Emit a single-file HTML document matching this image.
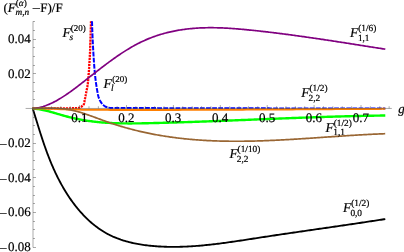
<!DOCTYPE html>
<html><head><meta charset="utf-8"><style>
html,body{margin:0;padding:0;background:#fff;}
svg{display:block;will-change:transform}
text{font-family:"Liberation Serif",serif;fill:#000;stroke:#000;stroke-width:0.2px;text-rendering:geometricPrecision}
.t{font-size:13px}
.l{font-size:13.5px}
.s{font-size:9.3px}
.i{font-style:italic}

.c path{fill:none;stroke-linecap:butt;stroke-linejoin:round}
.a path{fill:none;stroke:#555;stroke-width:0.5}
</style></head><body>
<svg width="404" height="252" viewBox="0 0 404 252">
<rect width="404" height="252" fill="#fff"/>
<g class="c">
<path d="M32.30,108.30 L32.64,108.30 L32.98,108.30 L33.33,108.30 L33.67,108.30 L34.01,108.30 L34.35,108.30 L34.69,108.30 L35.03,108.30 L35.38,108.30 L35.72,108.30 L36.06,108.30 L36.40,108.30 L36.74,108.30 L37.09,108.30 L37.43,108.30 L37.77,108.30 L38.11,108.30 L38.45,108.30 L38.79,108.30 L39.14,108.30 L39.48,108.30 L39.82,108.30 L40.16,108.30 L40.50,108.30 L40.84,108.30 L41.19,108.30 L41.53,108.30 L41.87,108.30 L42.21,108.30 L42.55,108.30 L42.90,108.30 L43.24,108.30 L43.58,108.30 L43.92,108.30 L44.26,108.30 L44.60,108.30 L44.95,108.30 L45.29,108.30 L45.63,108.30 L45.97,108.30 L46.31,108.30 L46.65,108.30 L47.00,108.30 L47.34,108.30 L47.68,108.30 L48.02,108.30 L48.36,108.30 L48.70,108.30 L49.05,108.30 L49.39,108.30 L49.73,108.30 L50.07,108.30 L50.41,108.30 L50.75,108.30 L51.10,108.30 L51.44,108.30 L51.78,108.30 L52.12,108.30 L52.46,108.30 L52.80,108.30 L53.15,108.30 L53.49,108.30 L53.83,108.30 L54.17,108.30 L54.51,108.30 L54.85,108.30 L55.20,108.30 L55.54,108.30 L55.88,108.30 L56.22,108.30 L56.56,108.30 L56.90,108.30 L57.25,108.30 L57.59,108.30 L57.93,108.30 L58.27,108.30 L58.61,108.30 L58.95,108.30 L59.30,108.30 L59.64,108.30 L59.98,108.30 L60.32,108.30 L60.66,108.30 L61.00,108.30 L61.35,108.30 L61.69,108.30 L62.03,108.30 L62.37,108.30 L62.71,108.30 L63.05,108.30 L63.40,108.30 L63.74,108.30 L64.08,108.30 L64.42,108.30 L64.76,108.30 L65.10,108.30 L65.44,108.30 L65.79,108.30 L66.13,108.30 L66.47,108.30 L66.81,108.30 L67.15,108.30 L67.49,108.30 L67.84,108.30 L68.18,108.30 L68.52,108.30 L68.86,108.30 L69.20,108.30 L69.54,108.30 L69.88,108.30 L70.23,108.30 L70.57,108.30 L70.91,108.29 L71.25,108.29 L71.59,108.28 L71.94,108.27 L72.28,108.26 L72.62,108.25 L72.96,108.24 L73.30,108.23 L73.64,108.21 L73.99,108.20 L74.33,108.18 L74.67,108.17 L75.01,108.15 L75.35,108.13 L75.69,108.12 L76.03,108.10 L76.37,108.08 L76.72,108.06 L77.06,108.03 L77.41,108.00 L77.75,107.97 L78.09,107.93 L78.43,107.89 L78.76,107.84 L79.09,107.78 L79.42,107.70 L79.75,107.60 L80.07,107.47 L80.39,107.32 L80.70,107.17 L80.99,107.01 L81.27,106.83 L81.54,106.62 L81.80,106.40 L82.05,106.16 L82.30,105.91 L82.54,105.66 L82.78,105.42 L83.03,105.17 L83.28,104.91 L83.51,104.64 L83.71,104.37 L83.87,104.08 L83.97,103.79 L84.07,103.48 L84.15,103.16 L84.22,102.83 L84.29,102.50 L84.35,102.15 L84.40,101.81 L84.46,101.46 L84.51,101.11 L84.56,100.76 L84.62,100.42 L84.68,100.08 L84.75,99.74 L84.82,99.41 L84.89,99.07 L84.95,98.74 L85.02,98.40 L85.09,98.07 L85.15,97.73 L85.22,97.40 L85.29,97.06 L85.35,96.73 L85.42,96.39 L85.49,96.06 L85.56,95.72 L85.62,95.39 L85.69,95.05 L85.76,94.72 L85.82,94.38 L85.89,94.05 L85.96,93.71 L86.02,93.38 L86.09,93.04 L86.16,92.71 L86.23,92.37 L86.29,92.04 L86.36,91.70 L86.43,91.37 L86.50,91.03 L86.57,90.70 L86.64,90.36 L86.70,90.03 L86.77,89.69 L86.84,89.36 L86.91,89.02 L86.97,88.69 L87.04,88.35 L87.10,88.02 L87.16,87.68 L87.22,87.34 L87.28,87.01 L87.33,86.67 L87.39,86.33 L87.45,86.00 L87.50,85.66 L87.56,85.32 L87.61,84.98 L87.66,84.64 L87.71,84.31 L87.75,83.97 L87.80,83.63 L87.84,83.29 L87.88,82.95 L87.92,82.61 L87.96,82.27 L88.00,81.93 L88.04,81.59 L88.08,81.25 L88.11,80.91 L88.15,80.57 L88.18,80.23 L88.21,79.89 L88.24,79.55 L88.27,79.21 L88.30,78.87 L88.33,78.53 L88.36,78.19 L88.39,77.85 L88.42,77.51 L88.45,77.17 L88.47,76.83 L88.50,76.49 L88.53,76.15 L88.55,75.81 L88.58,75.47 L88.61,75.13 L88.63,74.79 L88.66,74.45 L88.68,74.10 L88.71,73.76 L88.73,73.42 L88.75,73.08 L88.78,72.74 L88.80,72.40 L88.82,72.06 L88.85,71.72 L88.87,71.38 L88.90,71.04 L88.92,70.70 L88.94,70.35 L88.96,70.01 L88.99,69.67 L89.01,69.33 L89.03,68.99 L89.06,68.65 L89.08,68.31 L89.10,67.97 L89.13,67.63 L89.15,67.29 L89.17,66.95 L89.19,66.60 L89.22,66.26 L89.24,65.92 L89.26,65.58 L89.29,65.24 L89.31,64.90 L89.33,64.56 L89.36,64.22 L89.38,63.88 L89.40,63.54 L89.43,63.19 L89.45,62.85 L89.47,62.51 L89.49,62.17 L89.51,61.83 L89.54,61.49 L89.56,61.15 L89.58,60.81 L89.60,60.47 L89.62,60.13 L89.64,59.78 L89.66,59.44 L89.68,59.10 L89.70,58.76 L89.72,58.42 L89.74,58.08 L89.76,57.74 L89.78,57.40 L89.80,57.06 L89.82,56.71 L89.83,56.37 L89.85,56.03 L89.87,55.69 L89.88,55.35 L89.90,55.01 L89.92,54.67 L89.93,54.33 L89.95,53.98 L89.96,53.64 L89.97,53.30 L89.99,52.96 L90.00,52.62 L90.02,52.28 L90.03,51.94 L90.04,51.60 L90.06,51.25 L90.07,50.91 L90.08,50.57 L90.10,50.23 L90.11,49.89 L90.12,49.55 L90.13,49.21 L90.15,48.86 L90.16,48.52 L90.17,48.18 L90.18,47.84 L90.19,47.50 L90.21,47.16 L90.22,46.81 L90.23,46.47 L90.24,46.13 L90.25,45.79 L90.26,45.45 L90.27,45.11 L90.28,44.77 L90.30,44.42 L90.31,44.08 L90.32,43.74 L90.33,43.40 L90.34,43.06 L90.35,42.72 L90.36,42.37 L90.37,42.03 L90.38,41.69 L90.39,41.35 L90.40,41.01 L90.42,40.67 L90.43,40.33 L90.44,39.98 L90.45,39.64 L90.46,39.30 L90.47,38.96 L90.48,38.62 L90.49,38.28 L90.50,37.93 L90.51,37.59 L90.52,37.25 L90.54,36.91 L90.55,36.57 L90.56,36.23 L90.57,35.89 L90.58,35.54 L90.59,35.20 L90.60,34.86 L90.61,34.52 L90.62,34.18 L90.63,33.84 L90.64,33.50 L90.65,33.15 L90.66,32.81 L90.67,32.47 L90.68,32.13 L90.70,31.79 L90.71,31.45 L90.72,31.10 L90.73,30.76 L90.74,30.42 L90.75,30.08 L90.76,29.74 L90.77,29.40 L90.78,29.06 L90.79,28.71 L90.80,28.37 L90.81,28.03 L90.82,27.69 L90.83,27.35 L90.84,27.01 L90.85,26.66 L90.86,26.32 L90.87,25.98 L90.88,25.64 L90.89,25.30 L90.90,24.96 L90.91,24.62 L90.92,24.27 L90.92,23.93 L90.93,23.59 L90.94,23.25 L90.95,22.91 L90.96,22.57 L90.97,22.22 L90.98,21.88 L90.99,21.54 L91.00,21.20" stroke="#ff0000" stroke-width="2.3" stroke-dasharray="2.15 0.9"/>
<path d="M92.00,21.20 L92.03,22.12 L92.05,23.05 L92.08,23.97 L92.11,24.89 L92.14,25.81 L92.17,26.74 L92.20,27.66 L92.23,28.58 L92.26,29.50 L92.30,30.43 L92.33,31.35 L92.37,32.27 L92.40,33.19 L92.44,34.11 L92.48,35.04 L92.51,35.96 L92.55,36.88 L92.59,37.80 L92.63,38.73 L92.67,39.65 L92.71,40.57 L92.76,41.49 L92.80,42.41 L92.85,43.34 L92.89,44.26 L92.94,45.18 L92.99,46.10 L93.04,47.02 L93.09,47.94 L93.14,48.87 L93.19,49.79 L93.25,50.71 L93.30,51.63 L93.35,52.55 L93.41,53.47 L93.46,54.39 L93.52,55.32 L93.58,56.24 L93.63,57.16 L93.69,58.08 L93.75,59.00 L93.81,59.92 L93.87,60.84 L93.93,61.76 L94.00,62.69 L94.06,63.61 L94.13,64.53 L94.20,65.45 L94.27,66.37 L94.34,67.29 L94.42,68.21 L94.49,69.13 L94.57,70.05 L94.65,70.97 L94.74,71.89 L94.83,72.80 L94.91,73.72 L95.01,74.64 L95.10,75.56 L95.20,76.48 L95.30,77.40 L95.40,78.31 L95.51,79.23 L95.62,80.15 L95.73,81.06 L95.85,81.98 L95.97,82.89 L96.10,83.81 L96.24,84.72 L96.38,85.63 L96.52,86.55 L96.67,87.46 L96.82,88.37 L96.97,89.28 L97.13,90.18 L97.29,91.10 L97.46,92.01 L97.62,92.93 L97.80,93.84 L97.99,94.75 L98.20,95.65 L98.42,96.53 L98.67,97.41 L98.96,98.28 L99.30,99.14 L99.69,99.99 L100.12,100.82 L100.57,101.62 L101.05,102.39 L101.59,103.15 L102.19,103.88 L102.83,104.56 L103.49,105.17 L104.22,105.75 L104.99,106.31 L105.80,106.79 L106.64,107.15 L107.49,107.39 L108.39,107.61 L109.32,107.79 L110.25,107.91 L111.17,107.95 L112.08,107.97 L113.00,107.98 L113.92,108.00 L114.84,108.01 L115.76,108.02 L116.68,108.03 L117.60,108.04 L118.53,108.05 L119.45,108.06 L120.38,108.07 L121.30,108.07 L122.23,108.08 L123.15,108.08 L124.08,108.08 L125.00,108.09 L125.93,108.09 L126.86,108.09 L127.78,108.10 L128.70,108.10 L129.63,108.10 L130.55,108.10 L131.47,108.10 L132.40,108.10 L133.32,108.10 L134.24,108.11 L135.17,108.11 L136.09,108.11 L137.01,108.11 L137.94,108.11 L138.86,108.11 L139.78,108.11 L140.70,108.11 L141.63,108.11 L142.55,108.12 L143.47,108.12 L144.40,108.12 L145.32,108.12 L146.24,108.12 L147.17,108.12 L148.09,108.12 L149.01,108.12 L149.93,108.12 L150.86,108.12 L151.78,108.12 L152.70,108.12 L153.63,108.12 L154.55,108.12 L155.47,108.12 L156.40,108.12 L157.32,108.12 L158.24,108.13 L159.16,108.13 L160.09,108.13 L161.01,108.13 L161.93,108.13 L162.86,108.13 L163.78,108.13 L164.70,108.13 L165.63,108.13 L166.55,108.13 L167.47,108.13 L168.39,108.13 L169.32,108.13 L170.24,108.13 L171.16,108.13 L172.09,108.13 L173.01,108.13 L173.93,108.13 L174.86,108.13 L175.78,108.13 L176.70,108.13 L177.62,108.13 L178.55,108.13 L179.47,108.13 L180.39,108.13 L181.32,108.13 L182.24,108.14 L183.16,108.14 L184.09,108.14 L185.01,108.14 L185.93,108.14 L186.85,108.14 L187.78,108.14 L188.70,108.14 L189.62,108.14 L190.55,108.14 L191.47,108.14 L192.39,108.14 L193.32,108.14 L194.24,108.14 L195.16,108.14 L196.08,108.15 L197.01,108.15 L197.93,108.15 L198.85,108.15 L199.78,108.15 L200.70,108.15 L201.62,108.15 L202.55,108.15 L203.47,108.15 L204.39,108.16 L205.31,108.16 L206.24,108.16 L207.16,108.16 L208.08,108.16 L209.01,108.17 L209.93,108.17 L210.85,108.17 L211.78,108.17 L212.70,108.17 L213.62,108.18 L214.54,108.18 L215.47,108.18 L216.39,108.18 L217.31,108.19 L218.24,108.19 L219.16,108.19 L220.08,108.20 L221.01,108.20 L221.93,108.20 L222.85,108.21 L223.77,108.21 L224.70,108.21 L225.62,108.21 L226.54,108.22 L227.47,108.22 L228.39,108.22 L229.31,108.23 L230.24,108.23 L231.16,108.23 L232.08,108.24 L233.00,108.24 L233.93,108.24 L234.85,108.25 L235.77,108.25 L236.70,108.25 L237.62,108.26 L238.54,108.26 L239.47,108.26 L240.39,108.27 L241.31,108.27 L242.23,108.27 L243.16,108.28 L244.08,108.28 L245.00,108.28 L245.93,108.29 L246.85,108.29 L247.77,108.29 L248.70,108.30 L249.62,108.30 L250.54,108.30 L251.46,108.30 L252.39,108.31 L253.31,108.31 L254.23,108.31 L255.16,108.32 L256.08,108.32 L257.00,108.32 L257.93,108.33 L258.85,108.33 L259.77,108.34 L260.69,108.34 L261.62,108.34 L262.54,108.35 L263.46,108.35 L264.39,108.35 L265.31,108.36 L266.23,108.36 L267.16,108.37 L268.08,108.37 L269.00,108.37 L269.92,108.38 L270.85,108.38 L271.77,108.39 L272.69,108.39 L273.62,108.39 L274.54,108.40 L275.46,108.40 L276.39,108.41 L277.31,108.41 L278.23,108.41 L279.15,108.42 L280.08,108.42 L281.00,108.43 L281.92,108.43 L282.85,108.43 L283.77,108.44 L284.69,108.44 L285.62,108.45 L286.54,108.45 L287.46,108.45 L288.38,108.46 L289.31,108.46 L290.23,108.46 L291.15,108.47 L292.08,108.47 L293.00,108.48 L293.92,108.48 L294.85,108.48 L295.77,108.49 L296.69,108.49 L297.61,108.49 L298.54,108.50 L299.46,108.50 L300.38,108.50 L301.31,108.51 L302.23,108.51 L303.15,108.51 L304.08,108.51 L305.00,108.52 L305.92,108.52 L306.84,108.52 L307.77,108.53 L308.69,108.53 L309.61,108.53 L310.54,108.53 L311.46,108.53 L312.38,108.54 L313.31,108.54 L314.23,108.54 L315.15,108.54 L316.07,108.54 L317.00,108.55 L317.92,108.55 L318.84,108.55 L319.77,108.55 L320.69,108.55 L321.61,108.55 L322.54,108.55 L323.46,108.55 L324.38,108.56 L325.30,108.56 L326.23,108.56 L327.15,108.56 L328.07,108.56 L329.00,108.56 L329.92,108.56 L330.84,108.56 L331.77,108.56 L332.69,108.57 L333.61,108.57 L334.53,108.57 L335.46,108.57 L336.38,108.57 L337.30,108.57 L338.23,108.57 L339.15,108.57 L340.07,108.57 L341.00,108.57 L341.92,108.58 L342.84,108.58 L343.76,108.58 L344.69,108.58 L345.61,108.58 L346.53,108.58 L347.46,108.58 L348.38,108.58 L349.30,108.58 L350.23,108.58 L351.15,108.58 L352.07,108.58 L352.99,108.59 L353.92,108.59 L354.84,108.59 L355.76,108.59 L356.69,108.59 L357.61,108.59 L358.53,108.59 L359.46,108.59 L360.38,108.59 L361.30,108.59 L362.22,108.59 L363.15,108.59 L364.07,108.59 L364.99,108.59 L365.92,108.59 L366.84,108.59 L367.76,108.60 L368.69,108.60 L369.61,108.60 L370.53,108.60 L371.45,108.60 L372.38,108.60 L373.30,108.60 L374.22,108.60 L375.15,108.60 L376.07,108.60 L376.99,108.60 L377.92,108.60 L378.84,108.60 L379.76,108.60 L380.68,108.60 L381.61,108.60 L382.53,108.60 L383.45,108.60 L384.38,108.60 L385.30,108.60" stroke="#0000ff" stroke-width="2" stroke-dasharray="4.8 1.3"/>
<path d="M32.70,108.50 L33.13,109.87 L33.57,111.24 L33.99,112.61 L34.42,113.99 L34.85,115.36 L35.27,116.73 L35.70,118.10 L36.12,119.47 L36.54,120.84 L36.97,122.22 L37.39,123.59 L37.82,124.96 L38.24,126.33 L38.67,127.70 L39.10,129.07 L39.53,130.44 L39.96,131.80 L40.40,133.17 L40.84,134.54 L41.28,135.90 L41.72,137.27 L42.17,138.63 L42.62,140.00 L43.08,141.36 L43.54,142.72 L44.00,144.08 L44.47,145.44 L44.94,146.80 L45.42,148.15 L45.91,149.51 L46.40,150.86 L46.89,152.22 L47.39,153.57 L47.90,154.92 L48.42,156.26 L48.94,157.61 L49.47,158.95 L50.01,160.30 L50.55,161.64 L51.10,162.98 L51.66,164.31 L52.23,165.65 L52.81,166.98 L53.40,168.31 L53.99,169.64 L54.60,170.97 L55.21,172.29 L55.83,173.61 L56.47,174.93 L57.11,176.25 L57.77,177.56 L58.43,178.87 L59.11,180.18 L59.80,181.48 L60.49,182.78 L61.20,184.08 L61.92,185.37 L62.65,186.65 L63.39,187.93 L64.14,189.21 L64.90,190.48 L65.67,191.74 L66.45,192.99 L67.24,194.24 L68.04,195.48 L68.86,196.71 L69.68,197.93 L70.52,199.14 L71.36,200.35 L72.22,201.54 L73.09,202.73 L73.97,203.90 L74.86,205.07 L75.76,206.22 L76.67,207.37 L77.59,208.50 L78.52,209.62 L79.46,210.73 L80.42,211.82 L81.39,212.90 L82.36,213.97 L83.35,215.03 L84.35,216.07 L85.36,217.10 L86.38,218.11 L87.41,219.11 L88.45,220.09 L89.51,221.06 L90.57,222.01 L91.65,222.94 L92.74,223.86 L93.84,224.76 L94.95,225.64 L96.07,226.51 L97.20,227.35 L98.34,228.18 L99.50,228.99 L100.67,229.78 L101.84,230.55 L103.03,231.31 L104.23,232.04 L105.45,232.75 L106.67,233.44 L107.90,234.11 L109.15,234.75 L110.41,235.38 L111.68,235.98 L112.96,236.57 L114.25,237.13 L115.54,237.67 L116.85,238.20 L118.17,238.70 L119.50,239.19 L120.83,239.66 L122.17,240.10 L123.53,240.54 L124.88,240.95 L126.25,241.34 L127.62,241.72 L129.00,242.09 L130.39,242.43 L131.78,242.76 L133.18,243.08 L134.58,243.38 L135.99,243.66 L137.40,243.93 L138.82,244.19 L140.24,244.43 L141.66,244.66 L143.09,244.87 L144.52,245.08 L145.96,245.27 L147.39,245.44 L148.83,245.61 L150.27,245.76 L151.71,245.90 L153.16,246.04 L154.60,246.16 L156.04,246.27 L157.49,246.37 L158.93,246.46 L160.37,246.54 L161.82,246.62 L163.26,246.68 L164.71,246.73 L166.15,246.78 L167.59,246.82 L169.03,246.84 L170.48,246.86 L171.92,246.88 L173.36,246.88 L174.80,246.87 L176.25,246.86 L177.69,246.84 L179.13,246.81 L180.57,246.78 L182.01,246.74 L183.46,246.69 L184.90,246.63 L186.34,246.57 L187.78,246.50 L189.22,246.42 L190.66,246.34 L192.10,246.25 L193.54,246.15 L194.98,246.05 L196.42,245.95 L197.86,245.83 L199.30,245.71 L200.74,245.59 L202.18,245.46 L203.62,245.33 L205.06,245.19 L206.50,245.04 L207.94,244.90 L209.38,244.74 L210.82,244.58 L212.25,244.42 L213.69,244.26 L215.13,244.09 L216.57,243.91 L218.01,243.74 L219.45,243.55 L220.88,243.37 L222.32,243.18 L223.76,242.99 L225.20,242.80 L226.63,242.60 L228.07,242.40 L229.51,242.20 L230.94,242.00 L232.38,241.79 L233.82,241.58 L235.25,241.37 L236.69,241.16 L238.13,240.95 L239.56,240.73 L241.00,240.52 L242.43,240.30 L243.87,240.08 L245.30,239.86 L246.74,239.64 L248.17,239.42 L249.61,239.20 L251.04,238.98 L252.48,238.75 L253.91,238.53 L255.35,238.31 L256.78,238.09 L258.22,237.87 L259.65,237.64 L261.08,237.42 L262.52,237.20 L263.95,236.99 L265.38,236.77 L266.82,236.55 L268.25,236.33 L269.68,236.12 L271.12,235.90 L272.55,235.68 L273.98,235.47 L275.41,235.25 L276.85,235.04 L278.28,234.83 L279.71,234.61 L281.14,234.40 L282.57,234.19 L284.01,233.98 L285.44,233.77 L286.87,233.56 L288.30,233.35 L289.73,233.14 L291.16,232.93 L292.59,232.72 L294.02,232.51 L295.45,232.30 L296.88,232.09 L298.31,231.88 L299.74,231.68 L301.17,231.47 L302.60,231.26 L304.03,231.05 L305.46,230.85 L306.89,230.64 L308.32,230.43 L309.75,230.23 L311.18,230.02 L312.61,229.81 L314.04,229.61 L315.47,229.40 L316.89,229.20 L318.32,228.99 L319.75,228.78 L321.18,228.58 L322.61,228.37 L324.03,228.17 L325.46,227.96 L326.89,227.75 L328.32,227.55 L329.74,227.34 L331.17,227.13 L332.60,226.93 L334.02,226.72 L335.45,226.51 L336.88,226.31 L338.30,226.10 L339.73,225.89 L341.16,225.69 L342.58,225.48 L344.01,225.27 L345.43,225.06 L346.86,224.85 L348.28,224.64 L349.71,224.43 L351.14,224.22 L352.56,224.01 L353.99,223.80 L355.41,223.59 L356.83,223.38 L358.26,223.17 L359.68,222.96 L361.11,222.75 L362.53,222.53 L363.96,222.32 L365.38,222.11 L366.80,221.89 L368.23,221.68 L369.65,221.46 L371.07,221.25 L372.50,221.03 L373.92,220.81 L375.34,220.59 L376.77,220.37 L378.19,220.16 L379.61,219.94 L381.03,219.72 L382.46,219.49 L383.88,219.27 L385.30,219.05" stroke="#000" stroke-width="1.85"/>
<path d="M32.50,108.50 L33.68,108.58 L34.86,108.68 L36.04,108.81 L37.22,108.96 L38.40,109.13 L39.58,109.32 L40.76,109.53 L41.94,109.76 L43.12,110.00 L44.30,110.26 L45.48,110.54 L46.66,110.82 L47.84,111.12 L49.02,111.43 L50.20,111.75 L51.38,112.07 L52.56,112.41 L53.74,112.74 L54.92,113.09 L56.10,113.43 L57.28,113.78 L58.46,114.12 L59.64,114.47 L60.82,114.81 L62.00,115.16 L63.18,115.49 L64.36,115.83 L65.54,116.15 L66.72,116.47 L67.90,116.78 L69.08,117.08 L70.26,117.37 L71.44,117.65 L72.62,117.93 L73.80,118.20 L74.98,118.46 L76.16,118.71 L77.34,118.96 L78.52,119.19 L79.70,119.42 L80.88,119.64 L82.06,119.86 L83.24,120.07 L84.42,120.27 L85.60,120.46 L86.78,120.64 L87.96,120.82 L89.14,120.99 L90.32,121.15 L91.50,121.31 L92.68,121.46 L93.86,121.60 L95.04,121.74 L96.22,121.87 L97.40,122.00 L98.58,122.11 L99.76,122.23 L100.94,122.33 L102.12,122.43 L103.30,122.53 L104.48,122.61 L105.66,122.70 L106.84,122.78 L108.02,122.85 L109.20,122.92 L110.38,122.98 L111.56,123.04 L112.74,123.09 L113.92,123.14 L115.10,123.19 L116.28,123.23 L117.46,123.26 L118.64,123.30 L119.82,123.33 L120.99,123.35 L122.17,123.37 L123.35,123.39 L124.53,123.40 L125.71,123.42 L126.89,123.42 L128.07,123.43 L129.25,123.43 L130.43,123.43 L131.61,123.43 L132.79,123.42 L133.97,123.41 L135.15,123.40 L136.33,123.39 L137.51,123.38 L138.69,123.36 L139.87,123.35 L141.05,123.33 L142.23,123.31 L143.41,123.28 L144.59,123.26 L145.77,123.24 L146.95,123.21 L148.13,123.19 L149.31,123.16 L150.49,123.13 L151.67,123.11 L152.85,123.08 L154.03,123.05 L155.21,123.02 L156.39,122.99 L157.57,122.96 L158.75,122.93 L159.93,122.90 L161.11,122.87 L162.29,122.84 L163.47,122.81 L164.65,122.77 L165.83,122.74 L167.01,122.71 L168.19,122.68 L169.37,122.64 L170.55,122.61 L171.73,122.57 L172.91,122.54 L174.09,122.50 L175.27,122.47 L176.45,122.43 L177.63,122.40 L178.81,122.36 L179.99,122.32 L181.17,122.28 L182.35,122.25 L183.53,122.21 L184.71,122.17 L185.89,122.13 L187.07,122.09 L188.25,122.05 L189.43,122.02 L190.61,121.98 L191.79,121.94 L192.97,121.90 L194.15,121.85 L195.33,121.81 L196.51,121.77 L197.69,121.73 L198.87,121.69 L200.05,121.65 L201.23,121.61 L202.41,121.56 L203.59,121.52 L204.77,121.48 L205.95,121.44 L207.13,121.39 L208.31,121.35 L209.49,121.31 L210.67,121.26 L211.85,121.22 L213.03,121.17 L214.21,121.13 L215.39,121.08 L216.57,121.04 L217.75,121.00 L218.93,120.95 L220.11,120.90 L221.29,120.86 L222.47,120.81 L223.65,120.77 L224.83,120.72 L226.01,120.68 L227.19,120.63 L228.37,120.58 L229.55,120.54 L230.73,120.49 L231.91,120.45 L233.09,120.40 L234.27,120.35 L235.45,120.31 L236.63,120.26 L237.81,120.21 L238.99,120.16 L240.17,120.12 L241.35,120.07 L242.53,120.02 L243.71,119.98 L244.89,119.93 L246.07,119.88 L247.25,119.83 L248.43,119.79 L249.61,119.74 L250.79,119.69 L251.97,119.64 L253.15,119.60 L254.33,119.55 L255.51,119.50 L256.69,119.46 L257.87,119.41 L259.05,119.36 L260.23,119.31 L261.41,119.27 L262.59,119.22 L263.77,119.17 L264.95,119.12 L266.13,119.08 L267.31,119.03 L268.49,118.98 L269.67,118.94 L270.85,118.89 L272.03,118.84 L273.21,118.79 L274.39,118.75 L275.57,118.70 L276.75,118.66 L277.93,118.61 L279.11,118.56 L280.29,118.52 L281.47,118.47 L282.65,118.42 L283.83,118.38 L285.01,118.33 L286.19,118.29 L287.37,118.24 L288.55,118.20 L289.73,118.15 L290.91,118.11 L292.09,118.06 L293.27,118.02 L294.45,117.97 L295.63,117.93 L296.81,117.88 L297.98,117.84 L299.16,117.80 L300.34,117.75 L301.52,117.71 L302.70,117.67 L303.88,117.62 L305.06,117.58 L306.24,117.54 L307.42,117.50 L308.60,117.46 L309.78,117.41 L310.96,117.37 L312.14,117.33 L313.32,117.29 L314.50,117.25 L315.68,117.21 L316.86,117.17 L318.04,117.13 L319.22,117.09 L320.40,117.05 L321.58,117.01 L322.76,116.97 L323.94,116.94 L325.12,116.90 L326.30,116.86 L327.48,116.82 L328.66,116.79 L329.84,116.75 L331.02,116.71 L332.20,116.68 L333.38,116.64 L334.56,116.61 L335.74,116.57 L336.92,116.54 L338.10,116.50 L339.28,116.47 L340.46,116.44 L341.64,116.40 L342.82,116.37 L344.00,116.34 L345.18,116.31 L346.36,116.27 L347.54,116.24 L348.72,116.21 L349.90,116.18 L351.08,116.15 L352.26,116.12 L353.44,116.09 L354.62,116.07 L355.80,116.04 L356.98,116.01 L358.16,115.98 L359.34,115.96 L360.52,115.93 L361.70,115.90 L362.88,115.88 L364.06,115.85 L365.24,115.83 L366.42,115.81 L367.60,115.78 L368.78,115.76 L369.96,115.74 L371.14,115.72 L372.32,115.70 L373.50,115.68 L374.68,115.66 L375.86,115.64 L377.04,115.62 L378.22,115.60 L379.40,115.58 L380.58,115.56 L381.76,115.55 L382.94,115.53 L384.12,115.51 L385.30,115.50" stroke="#00ff00" stroke-width="2.4"/>
<path d="M32.50,108.50 L36.06,108.49 L39.63,108.52 L43.19,108.57 L46.75,108.64 L50.32,108.74 L53.88,108.86 L57.45,109.00 L61.01,109.15 L64.57,109.29 L68.14,109.39 L71.70,109.48 L75.26,109.54 L78.83,109.59 L82.39,109.63 L85.95,109.67 L89.52,109.71 L93.08,109.74 L96.65,109.78 L100.21,109.81 L103.77,109.83 L107.34,109.86 L110.90,109.88 L114.46,109.90 L118.03,109.91 L121.59,109.93 L125.15,109.94 L128.72,109.94 L132.28,109.95 L135.85,109.95 L139.41,109.96 L142.97,109.96 L146.54,109.95 L150.10,109.95 L153.66,109.94 L157.23,109.94 L160.79,109.93 L164.35,109.92 L167.92,109.91 L171.48,109.90 L175.05,109.89 L178.61,109.88 L182.17,109.87 L185.74,109.85 L189.30,109.84 L192.86,109.83 L196.43,109.81 L199.99,109.80 L203.55,109.79 L207.12,109.77 L210.68,109.76 L214.25,109.74 L217.81,109.73 L221.37,109.72 L224.94,109.70 L228.50,109.69 L232.06,109.67 L235.63,109.66 L239.19,109.65 L242.75,109.63 L246.32,109.62 L249.88,109.60 L253.45,109.59 L257.01,109.57 L260.57,109.55 L264.14,109.54 L267.70,109.52 L271.26,109.50 L274.83,109.48 L278.39,109.47 L281.95,109.45 L285.52,109.43 L289.08,109.41 L292.65,109.38 L296.21,109.36 L299.77,109.34 L303.34,109.31 L306.90,109.29 L310.46,109.27 L314.03,109.24 L317.59,109.22 L321.15,109.19 L324.72,109.17 L328.28,109.15 L331.85,109.13 L335.41,109.10 L338.97,109.08 L342.54,109.06 L346.10,109.04 L349.66,109.02 L353.23,109.00 L356.79,108.99 L360.35,108.97 L363.92,108.95 L367.48,108.93 L371.05,108.92 L374.61,108.90 L378.17,108.88 L381.74,108.87 L385.30,108.85" stroke="#ff7f00" stroke-width="2"/>
<path d="M32.50,108.50 L33.68,108.42 L34.86,108.30 L36.04,108.14 L37.22,107.95 L38.40,107.73 L39.58,107.47 L40.76,107.19 L41.94,106.87 L43.12,106.52 L44.30,106.14 L45.48,105.73 L46.66,105.29 L47.84,104.83 L49.02,104.34 L50.20,103.82 L51.38,103.28 L52.56,102.71 L53.74,102.12 L54.92,101.51 L56.10,100.88 L57.28,100.22 L58.46,99.55 L59.64,98.85 L60.82,98.14 L62.00,97.40 L63.18,96.65 L64.36,95.89 L65.54,95.11 L66.72,94.31 L67.90,93.50 L69.08,92.67 L70.26,91.84 L71.44,90.99 L72.62,90.13 L73.80,89.26 L74.98,88.38 L76.16,87.49 L77.34,86.60 L78.52,85.69 L79.70,84.78 L80.88,83.87 L82.06,82.95 L83.24,82.02 L84.42,81.10 L85.60,80.17 L86.78,79.24 L87.96,78.30 L89.14,77.37 L90.32,76.44 L91.50,75.51 L92.68,74.58 L93.86,73.66 L95.04,72.73 L96.22,71.81 L97.40,70.89 L98.58,69.98 L99.76,69.06 L100.94,68.16 L102.12,67.25 L103.30,66.35 L104.48,65.46 L105.66,64.57 L106.84,63.69 L108.02,62.81 L109.20,61.94 L110.38,61.08 L111.56,60.22 L112.74,59.37 L113.92,58.53 L115.10,57.70 L116.28,56.87 L117.46,56.05 L118.64,55.25 L119.82,54.45 L120.99,53.66 L122.17,52.88 L123.35,52.11 L124.53,51.35 L125.71,50.61 L126.89,49.87 L128.07,49.15 L129.25,48.44 L130.43,47.74 L131.61,47.05 L132.79,46.37 L133.97,45.71 L135.15,45.07 L136.33,44.43 L137.51,43.82 L138.69,43.21 L139.87,42.62 L141.05,42.05 L142.23,41.49 L143.41,40.94 L144.59,40.41 L145.77,39.89 L146.95,39.38 L148.13,38.89 L149.31,38.41 L150.49,37.94 L151.67,37.49 L152.85,37.05 L154.03,36.62 L155.21,36.20 L156.39,35.80 L157.57,35.41 L158.75,35.03 L159.93,34.66 L161.11,34.30 L162.29,33.95 L163.47,33.62 L164.65,33.30 L165.83,32.98 L167.01,32.68 L168.19,32.39 L169.37,32.11 L170.55,31.84 L171.73,31.57 L172.91,31.32 L174.09,31.08 L175.27,30.85 L176.45,30.63 L177.63,30.41 L178.81,30.21 L179.99,30.01 L181.17,29.83 L182.35,29.65 L183.53,29.48 L184.71,29.32 L185.89,29.17 L187.07,29.02 L188.25,28.89 L189.43,28.76 L190.61,28.64 L191.79,28.53 L192.97,28.43 L194.15,28.33 L195.33,28.24 L196.51,28.16 L197.69,28.09 L198.87,28.02 L200.05,27.96 L201.23,27.90 L202.41,27.86 L203.59,27.82 L204.77,27.78 L205.95,27.76 L207.13,27.73 L208.31,27.72 L209.49,27.71 L210.67,27.71 L211.85,27.71 L213.03,27.72 L214.21,27.73 L215.39,27.75 L216.57,27.77 L217.75,27.80 L218.93,27.83 L220.11,27.87 L221.29,27.91 L222.47,27.96 L223.65,28.01 L224.83,28.07 L226.01,28.13 L227.19,28.20 L228.37,28.26 L229.55,28.34 L230.73,28.41 L231.91,28.49 L233.09,28.58 L234.27,28.66 L235.45,28.75 L236.63,28.84 L237.81,28.94 L238.99,29.04 L240.17,29.14 L241.35,29.24 L242.53,29.35 L243.71,29.46 L244.89,29.57 L246.07,29.68 L247.25,29.80 L248.43,29.91 L249.61,30.03 L250.79,30.15 L251.97,30.27 L253.15,30.39 L254.33,30.52 L255.51,30.64 L256.69,30.77 L257.87,30.90 L259.05,31.03 L260.23,31.16 L261.41,31.29 L262.59,31.42 L263.77,31.55 L264.95,31.69 L266.13,31.82 L267.31,31.96 L268.49,32.10 L269.67,32.24 L270.85,32.38 L272.03,32.52 L273.21,32.66 L274.39,32.81 L275.57,32.95 L276.75,33.10 L277.93,33.25 L279.11,33.39 L280.29,33.54 L281.47,33.69 L282.65,33.84 L283.83,34.00 L285.01,34.15 L286.19,34.30 L287.37,34.46 L288.55,34.61 L289.73,34.77 L290.91,34.93 L292.09,35.08 L293.27,35.24 L294.45,35.40 L295.63,35.56 L296.81,35.73 L297.98,35.89 L299.16,36.05 L300.34,36.22 L301.52,36.38 L302.70,36.55 L303.88,36.71 L305.06,36.88 L306.24,37.05 L307.42,37.22 L308.60,37.38 L309.78,37.55 L310.96,37.72 L312.14,37.90 L313.32,38.07 L314.50,38.24 L315.68,38.41 L316.86,38.59 L318.04,38.76 L319.22,38.93 L320.40,39.11 L321.58,39.29 L322.76,39.46 L323.94,39.64 L325.12,39.82 L326.30,39.99 L327.48,40.17 L328.66,40.35 L329.84,40.53 L331.02,40.71 L332.20,40.89 L333.38,41.07 L334.56,41.25 L335.74,41.43 L336.92,41.61 L338.10,41.79 L339.28,41.98 L340.46,42.16 L341.64,42.34 L342.82,42.52 L344.00,42.71 L345.18,42.89 L346.36,43.08 L347.54,43.26 L348.72,43.44 L349.90,43.63 L351.08,43.81 L352.26,44.00 L353.44,44.18 L354.62,44.37 L355.80,44.55 L356.98,44.74 L358.16,44.93 L359.34,45.11 L360.52,45.30 L361.70,45.48 L362.88,45.67 L364.06,45.86 L365.24,46.04 L366.42,46.23 L367.60,46.41 L368.78,46.60 L369.96,46.79 L371.14,46.97 L372.32,47.16 L373.50,47.35 L374.68,47.53 L375.86,47.72 L377.04,47.90 L378.22,48.09 L379.40,48.27 L380.58,48.46 L381.76,48.65 L382.94,48.83 L384.12,49.02 L385.30,49.20" stroke="#800080" stroke-width="1.7"/>
<path d="M32.50,108.50 L33.68,108.44 L34.86,108.38 L36.04,108.33 L37.22,108.28 L38.40,108.23 L39.58,108.18 L40.76,108.15 L41.94,108.11 L43.12,108.09 L44.30,108.06 L45.48,108.05 L46.66,108.04 L47.83,108.04 L49.01,108.04 L50.19,108.06 L51.37,108.08 L52.55,108.11 L53.73,108.15 L54.91,108.20 L56.09,108.26 L57.27,108.33 L58.45,108.42 L59.63,108.51 L60.81,108.61 L61.99,108.73 L63.17,108.86 L64.35,109.00 L65.53,109.16 L66.71,109.33 L67.89,109.51 L69.07,109.71 L70.25,109.92 L71.43,110.15 L72.61,110.40 L73.79,110.66 L74.97,110.93 L76.15,111.23 L77.32,111.53 L78.50,111.86 L79.68,112.19 L80.86,112.54 L82.04,112.90 L83.22,113.27 L84.40,113.65 L85.58,114.04 L86.76,114.44 L87.94,114.85 L89.12,115.26 L90.30,115.68 L91.48,116.11 L92.66,116.53 L93.84,116.97 L95.02,117.40 L96.20,117.84 L97.38,118.28 L98.56,118.72 L99.74,119.15 L100.92,119.59 L102.10,120.03 L103.28,120.46 L104.46,120.88 L105.64,121.31 L106.81,121.73 L107.99,122.14 L109.17,122.54 L110.35,122.95 L111.53,123.34 L112.71,123.73 L113.89,124.12 L115.07,124.50 L116.25,124.88 L117.43,125.25 L118.61,125.61 L119.79,125.97 L120.97,126.33 L122.15,126.68 L123.33,127.02 L124.51,127.36 L125.69,127.70 L126.87,128.03 L128.05,128.35 L129.23,128.67 L130.41,128.99 L131.59,129.30 L132.77,129.60 L133.95,129.90 L135.13,130.20 L136.30,130.49 L137.48,130.78 L138.66,131.06 L139.84,131.34 L141.02,131.61 L142.20,131.88 L143.38,132.15 L144.56,132.41 L145.74,132.66 L146.92,132.91 L148.10,133.16 L149.28,133.40 L150.46,133.64 L151.64,133.87 L152.82,134.10 L154.00,134.33 L155.18,134.55 L156.36,134.76 L157.54,134.98 L158.72,135.18 L159.90,135.39 L161.08,135.59 L162.26,135.78 L163.44,135.98 L164.62,136.16 L165.79,136.35 L166.97,136.53 L168.15,136.70 L169.33,136.88 L170.51,137.05 L171.69,137.21 L172.87,137.37 L174.05,137.53 L175.23,137.68 L176.41,137.83 L177.59,137.98 L178.77,138.12 L179.95,138.26 L181.13,138.40 L182.31,138.53 L183.49,138.66 L184.67,138.78 L185.85,138.90 L187.03,139.02 L188.21,139.14 L189.39,139.25 L190.57,139.35 L191.75,139.46 L192.93,139.56 L194.11,139.66 L195.28,139.75 L196.46,139.85 L197.64,139.93 L198.82,140.02 L200.00,140.10 L201.18,140.18 L202.36,140.26 L203.54,140.33 L204.72,140.40 L205.90,140.47 L207.08,140.53 L208.26,140.59 L209.44,140.65 L210.62,140.71 L211.80,140.76 L212.98,140.81 L214.16,140.86 L215.34,140.90 L216.52,140.95 L217.70,140.98 L218.88,141.02 L220.06,141.06 L221.24,141.09 L222.42,141.12 L223.59,141.14 L224.77,141.17 L225.95,141.19 L227.13,141.21 L228.31,141.22 L229.49,141.24 L230.67,141.25 L231.85,141.26 L233.03,141.27 L234.21,141.27 L235.39,141.27 L236.57,141.27 L237.75,141.27 L238.93,141.27 L240.11,141.26 L241.29,141.26 L242.47,141.25 L243.65,141.23 L244.83,141.22 L246.01,141.20 L247.19,141.19 L248.37,141.17 L249.55,141.14 L250.73,141.12 L251.91,141.10 L253.08,141.07 L254.26,141.04 L255.44,141.01 L256.62,140.98 L257.80,140.94 L258.98,140.91 L260.16,140.87 L261.34,140.83 L262.52,140.79 L263.70,140.75 L264.88,140.71 L266.06,140.66 L267.24,140.61 L268.42,140.57 L269.60,140.52 L270.78,140.47 L271.96,140.41 L273.14,140.36 L274.32,140.31 L275.50,140.25 L276.68,140.19 L277.86,140.14 L279.04,140.08 L280.22,140.02 L281.40,139.96 L282.57,139.89 L283.75,139.83 L284.93,139.77 L286.11,139.70 L287.29,139.63 L288.47,139.57 L289.65,139.50 L290.83,139.43 L292.01,139.36 L293.19,139.29 L294.37,139.22 L295.55,139.14 L296.73,139.07 L297.91,139.00 L299.09,138.92 L300.27,138.85 L301.45,138.77 L302.63,138.70 L303.81,138.62 L304.99,138.54 L306.17,138.47 L307.35,138.39 L308.53,138.31 L309.71,138.23 L310.89,138.15 L312.06,138.07 L313.24,137.99 L314.42,137.91 L315.60,137.83 L316.78,137.75 L317.96,137.67 L319.14,137.59 L320.32,137.51 L321.50,137.43 L322.68,137.35 L323.86,137.27 L325.04,137.18 L326.22,137.10 L327.40,137.02 L328.58,136.94 L329.76,136.86 L330.94,136.78 L332.12,136.70 L333.30,136.62 L334.48,136.54 L335.66,136.46 L336.84,136.38 L338.02,136.30 L339.20,136.22 L340.38,136.14 L341.55,136.06 L342.73,135.98 L343.91,135.90 L345.09,135.83 L346.27,135.75 L347.45,135.68 L348.63,135.60 L349.81,135.52 L350.99,135.45 L352.17,135.38 L353.35,135.30 L354.53,135.23 L355.71,135.16 L356.89,135.09 L358.07,135.02 L359.25,134.95 L360.43,134.88 L361.61,134.82 L362.79,134.75 L363.97,134.68 L365.15,134.62 L366.33,134.56 L367.51,134.49 L368.69,134.43 L369.87,134.37 L371.04,134.31 L372.22,134.25 L373.40,134.20 L374.58,134.14 L375.76,134.09 L376.94,134.03 L378.12,133.98 L379.30,133.93 L380.48,133.88 L381.66,133.84 L382.84,133.79 L384.02,133.74 L385.20,133.70" stroke="#996633" stroke-width="1.7"/>
</g>
<g class="a">
<path d="M25.6,108.45 L391.8,108.45" />
<path d="M33.0,21.3 L33.0,247.4" />
<path d="M42.08,108.45 L42.08,106.25"/>
<path d="M51.46,108.45 L51.46,106.25"/>
<path d="M60.84,108.45 L60.84,106.25"/>
<path d="M70.22,108.45 L70.22,106.25"/>
<path d="M79.60,108.45 L79.60,105.05"/>
<path d="M88.98,108.45 L88.98,106.25"/>
<path d="M98.36,108.45 L98.36,106.25"/>
<path d="M107.74,108.45 L107.74,106.25"/>
<path d="M117.12,108.45 L117.12,106.25"/>
<path d="M126.50,108.45 L126.50,105.05"/>
<path d="M135.88,108.45 L135.88,106.25"/>
<path d="M145.26,108.45 L145.26,106.25"/>
<path d="M154.64,108.45 L154.64,106.25"/>
<path d="M164.02,108.45 L164.02,106.25"/>
<path d="M173.40,108.45 L173.40,105.05"/>
<path d="M182.78,108.45 L182.78,106.25"/>
<path d="M192.16,108.45 L192.16,106.25"/>
<path d="M201.54,108.45 L201.54,106.25"/>
<path d="M210.92,108.45 L210.92,106.25"/>
<path d="M220.30,108.45 L220.30,105.05"/>
<path d="M229.68,108.45 L229.68,106.25"/>
<path d="M239.06,108.45 L239.06,106.25"/>
<path d="M248.44,108.45 L248.44,106.25"/>
<path d="M257.82,108.45 L257.82,106.25"/>
<path d="M267.20,108.45 L267.20,105.05"/>
<path d="M276.58,108.45 L276.58,106.25"/>
<path d="M285.96,108.45 L285.96,106.25"/>
<path d="M295.34,108.45 L295.34,106.25"/>
<path d="M304.72,108.45 L304.72,106.25"/>
<path d="M314.10,108.45 L314.10,105.05"/>
<path d="M323.48,108.45 L323.48,106.25"/>
<path d="M332.86,108.45 L332.86,106.25"/>
<path d="M342.24,108.45 L342.24,106.25"/>
<path d="M351.62,108.45 L351.62,106.25"/>
<path d="M361.00,108.45 L361.00,105.05"/>
<path d="M370.38,108.45 L370.38,106.25"/>
<path d="M379.76,108.45 L379.76,106.25"/>
<path d="M389.14,108.45 L389.14,106.25"/>
<path d="M33.0,247.50 L36.0,247.50"/>
<path d="M33.0,238.50 L35.0,238.50"/>
<path d="M33.0,229.50 L35.0,229.50"/>
<path d="M33.0,221.50 L35.0,221.50"/>
<path d="M33.0,212.50 L36.0,212.50"/>
<path d="M33.0,203.50 L35.0,203.50"/>
<path d="M33.0,195.50 L35.0,195.50"/>
<path d="M33.0,186.50 L35.0,186.50"/>
<path d="M33.0,177.50 L36.0,177.50"/>
<path d="M33.0,169.50 L35.0,169.50"/>
<path d="M33.0,160.50 L35.0,160.50"/>
<path d="M33.0,151.50 L35.0,151.50"/>
<path d="M33.0,143.50 L36.0,143.50"/>
<path d="M33.0,134.50 L35.0,134.50"/>
<path d="M33.0,125.50 L35.0,125.50"/>
<path d="M33.0,117.50 L35.0,117.50"/>
<path d="M33.0,99.50 L35.0,99.50"/>
<path d="M33.0,91.50 L35.0,91.50"/>
<path d="M33.0,82.50 L35.0,82.50"/>
<path d="M33.0,73.50 L36.0,73.50"/>
<path d="M33.0,65.50 L35.0,65.50"/>
<path d="M33.0,56.50 L35.0,56.50"/>
<path d="M33.0,47.50 L35.0,47.50"/>
<path d="M33.0,39.50 L36.0,39.50"/>
<path d="M33.0,30.50 L35.0,30.50"/>
<path d="M33.0,21.50 L35.0,21.50"/>
</g>
<g class="tx">
<text x="79.40" y="122.1" class="t" text-anchor="middle">0.1</text>
<text x="126.30" y="122.1" class="t" text-anchor="middle">0.2</text>
<text x="173.20" y="122.1" class="t" text-anchor="middle">0.3</text>
<text x="220.10" y="122.1" class="t" text-anchor="middle">0.4</text>
<text x="267.00" y="122.1" class="t" text-anchor="middle">0.5</text>
<text x="313.90" y="122.1" class="t" text-anchor="middle">0.6</text>
<text x="360.80" y="122.1" class="t" text-anchor="middle">0.7</text>
<text x="30.8" y="43.10" class="t" text-anchor="end">0.04</text>
<text x="30.8" y="77.75" class="t" text-anchor="end">0.02</text>
<text x="30.8" y="147.05" class="t" text-anchor="end">0.02</text>
<text transform="translate(-2.6,148.95) scale(1.35,1)" class="t">−</text>
<text x="30.8" y="181.70" class="t" text-anchor="end">0.04</text>
<text transform="translate(-2.6,183.60) scale(1.35,1)" class="t">−</text>
<text x="30.8" y="216.35" class="t" text-anchor="end">0.06</text>
<text transform="translate(-2.6,218.25) scale(1.35,1)" class="t">−</text>
<text x="30.8" y="251.00" class="t" text-anchor="end">0.08</text>
<text transform="translate(-2.6,252.90) scale(1.35,1)" class="t">−</text>
<text x="398.2" y="113" class="t i">g</text>
<text x="3.5" y="12" class="t">(<tspan class="i">F</tspan></text>
<text x="15.7" y="6.2" class="s">(<tspan class="i">α</tspan>)</text>
<text x="15.5" y="14.7" class="s i">m,n</text>
<text transform="translate(32.0,13.3) scale(1.18,1)" class="t">−</text>
<text x="40.3" y="12" class="t">F)/F</text>
<text x="62.5" y="36.75" class="l"><tspan class="i">F</tspan></text><text x="70.70" y="30.65" class="s" style="font-size:9.0px">(20)</text><text x="69.60" y="40.40" class="s"><tspan class="i">s</tspan></text>
<text x="103.6" y="88" class="l"><tspan class="i">F</tspan></text><text x="112.30" y="81.90" class="s" style="font-size:9.0px">(20)</text><text x="111.10" y="91.05" class="s"><tspan class="i">l</tspan></text>
<text x="350" y="37" class="l"><tspan class="i">F</tspan></text><text x="358.20" y="30.90" class="s">(1/6)</text><text x="357.90" y="41.30" class="s">1,1</text>
<text x="301.25" y="97.3" class="l"><tspan class="i">F</tspan></text><text x="309.45" y="91.20" class="s">(1/2)</text><text x="308.55" y="100.95" class="s">2,2</text>
<text x="325.5" y="131.9" class="l"><tspan class="i">F</tspan></text><text x="333.70" y="125.80" class="s">(1/2)</text><text x="333.30" y="135.25" class="s">1,1</text>
<text x="229.4" y="158.25" class="l"><tspan class="i">F</tspan></text><text x="237.60" y="152.15" class="s">(1/10)</text><text x="236.80" y="162.25" class="s">2,2</text>
<text x="343" y="212" class="l"><tspan class="i">F</tspan></text><text x="351.20" y="205.90" class="s">(1/2)</text><text x="350.40" y="216.00" class="s">0,0</text>
</g>
</svg>
</body></html>
